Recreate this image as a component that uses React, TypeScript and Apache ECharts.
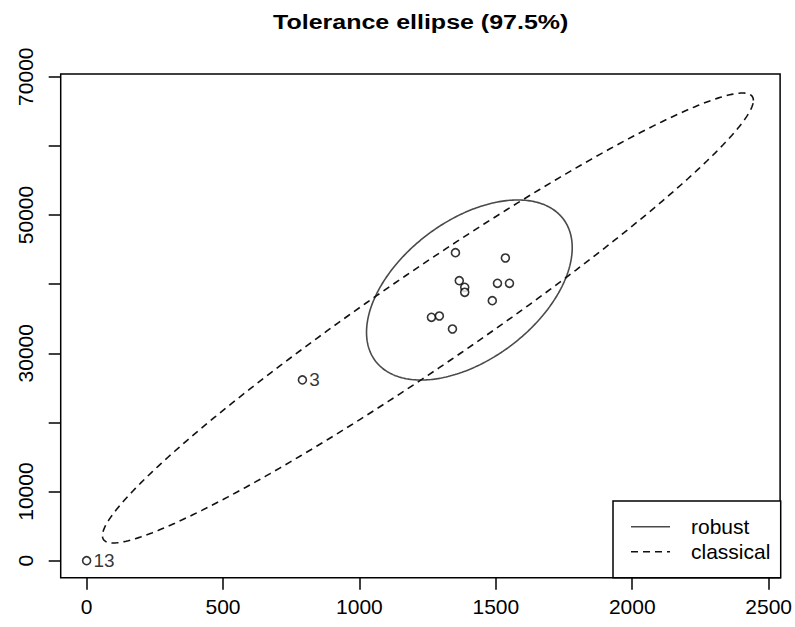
import React, { useEffect, useRef } from "react";
import * as echarts from "echarts";

// ---- data ----
const xTicks = [0, 500, 1000, 1500, 2000, 2500];
const yTicks = [0, 10000, 20000, 30000, 40000, 50000, 60000, 70000];
const yTickLabels = [0, 10000, 30000, 50000, 70000];

const pointX = [1352, 1535, 1366, 1386, 1386, 1506, 1550, 1487, 1264, 1293, 1341, 791, 0];
const pointY = [44550, 43780, 40500, 39540, 38820, 40120, 40120, 37600, 35200, 35390, 33510, 26140, 0];
const pointLabels = ["", "", "", "", "", "", "", "", "", "", "", "3", "13"];

// ellipse parameters: centre, half-extent along x and y, correlation
const robustCenter = [1403, 39150];
const robustHalf = [377, 13020];
const robustCorr = 0.47;
const classicalCenter = [1251, 35100];
const classicalHalf = [1193, 32540];
const classicalCorr = 0.967;

const legendNames = ["robust", "classical"];
const titleText = "Tolerance ellipse (97.5%)";

const FONT = '"Liberation Sans", Arial, Helvetica, sans-serif';

function ellipsePoints(c: number[], h: number[], r: number, n = 360): number[][] {
  const out: number[][] = [];
  const s = Math.sqrt(1 - r * r);
  for (let i = 0; i <= n; i++) {
    const t = (2 * Math.PI * i) / n;
    out.push([c[0] + h[0] * Math.cos(t), c[1] + h[1] * (r * Math.cos(t) + s * Math.sin(t))]);
  }
  return out;
}

export default function App() {
  const ref = useRef<HTMLDivElement>(null);
  useEffect(() => {
    if (!ref.current) return;
    const chart = echarts.init(ref.current, null, { renderer: "svg" });
    const gridL = 60.7, gridR = 780.7, gridT = 74, gridB = 577.7;
    const option: any = {
      animation: false,
      backgroundColor: "#fff",
      textStyle: { fontFamily: FONT },
      grid: {
        left: gridL,
        top: gridT,
        right: 795 - gridR,
        bottom: 627 - gridB,
        show: true,
        borderColor: "#000",
        borderWidth: 1.5,
        backgroundColor: "transparent",
      },
      xAxis: {
        type: "value",
        min: -95,
        max: 2542,
        axisLine: { show: false, onZero: false },
        splitLine: { show: false },
        axisTick: {
          show: true,
          customValues: xTicks,
          length: 12,
          lineStyle: { color: "#000", width: 1.5 },
        },
        axisLabel: {
          customValues: xTicks,
          margin: 18,
          fontSize: 21,
          color: "#000",
          fontFamily: FONT,
          formatter: (v: number) => String(v),
        },
      },
      yAxis: {
        type: "value",
        min: -2460,
        max: 70390,
        axisLine: { show: false, onZero: false },
        splitLine: { show: false },
        axisTick: {
          show: true,
          customValues: yTicks,
          length: 12,
          lineStyle: { color: "#000", width: 1.5 },
        },
        axisLabel: {
          customValues: yTickLabels,
          rotate: 90,
          margin: 25,
          fontSize: 21,
          color: "#000",
          fontFamily: FONT,
          formatter: (v: number) => String(v),
        },
      },
      series: [
        {
          name: legendNames[0],
          type: "line",
          data: ellipsePoints(robustCenter, robustHalf, robustCorr),
          showSymbol: false,
          symbol: "none",
          lineStyle: { color: "#4a4a4a", width: 1.6 },
          silent: true,
        },
        {
          name: legendNames[1],
          type: "line",
          data: ellipsePoints(classicalCenter, classicalHalf, classicalCorr),
          showSymbol: false,
          symbol: "none",
          lineStyle: { color: "#111", width: 1.6, type: [7, 5] },
          silent: true,
        },
        {
          type: "scatter",
          data: pointX.map((x, i) => ({
            value: [x, pointY[i]],
            label: {
              show: pointLabels[i] !== "",
              formatter: pointLabels[i],
            },
          })),
          symbol: "circle",
          symbolSize: 8,
          itemStyle: { color: "#fff", borderColor: "#000", borderWidth: 1.6 },
          label: {
            position: "right",
            distance: 2,
            fontSize: 19,
            color: "#000",
            fontFamily: FONT,
          },
          z: 5,
        },
      ],
      graphic: [
        {
          type: "text",
          x: 420.7,
          y: 22,
          scaleX: 1.25,
          style: {
            text: titleText,
            x: 0,
            y: 0,
            align: "center",
            verticalAlign: "middle",
            fontFamily: FONT,
            fontWeight: "bold",
            fontSize: 20,
            fill: "#000",
          },
        },
        {
          type: "group",
          z: 10,
          children: [
            {
              type: "rect",
              shape: { x: 613, y: 501, width: gridR - 613, height: gridB - 501 },
              style: { fill: "#fff", stroke: "#000", lineWidth: 1.5 },
            },
            {
              type: "line",
              shape: { x1: 631, y1: 526.7, x2: 670, y2: 526.7 },
              style: { stroke: "#4a4a4a", lineWidth: 1.6 },
            },
            {
              type: "line",
              shape: { x1: 631, y1: 551.7, x2: 670, y2: 551.7 },
              style: { stroke: "#111", lineWidth: 1.6, lineDash: [7, 5] },
            },
            {
              type: "text",
              style: {
                text: legendNames[0],
                x: 691,
                y: 526.7,
                verticalAlign: "middle",
                fontFamily: FONT,
                fontSize: 21,
                fill: "#000",
              },
            },
            {
              type: "text",
              style: {
                text: legendNames[1],
                x: 691,
                y: 551.7,
                verticalAlign: "middle",
                fontFamily: FONT,
                fontSize: 21,
                fill: "#000",
              },
            },
          ],
        },
      ],
    };
    chart.setOption(option);
    return () => chart.dispose();
  }, []);
  return (
    <div
      ref={ref}
      style={{ position: "fixed", left: 0, top: 0, width: 795, height: 627, background: "#fff" }}
    />
  );
}
